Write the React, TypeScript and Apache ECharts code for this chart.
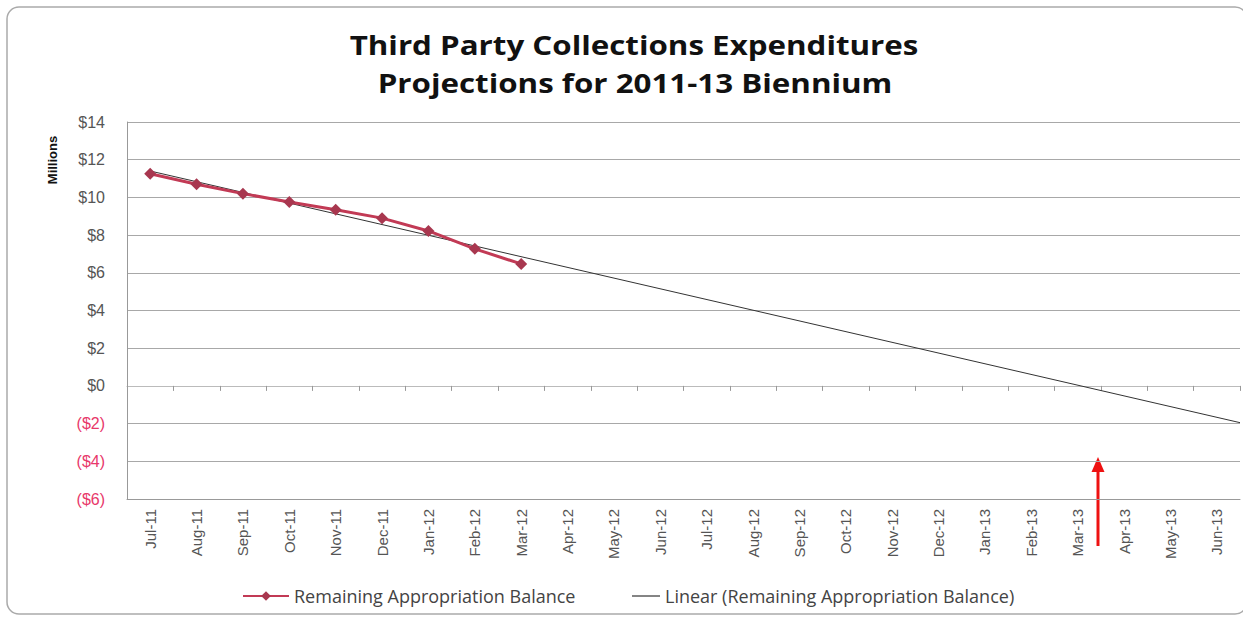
import React, { useEffect, useRef } from "react";
import * as echarts from "echarts";

const months = [
  "Jul-11", "Aug-11", "Sep-11", "Oct-11", "Nov-11", "Dec-11",
  "Jan-12", "Feb-12", "Mar-12", "Apr-12", "May-12", "Jun-12",
  "Jul-12", "Aug-12", "Sep-12", "Oct-12", "Nov-12", "Dec-12",
  "Jan-13", "Feb-13", "Mar-13", "Apr-13", "May-13", "Jun-13",
];
const balance = [11.25, 10.7, 10.2, 9.76, 9.34, 8.9, 8.22, 7.27, 6.47];
// trend line endpoints: [band position, value]
const trendPoints = [
  [0.5, 11.4],
  [24, -1.95],
];
const seriesName = "Remaining Appropriation Balance";
const trendName = "Linear (Remaining Appropriation Balance)";
const titleLines = ["Third Party Collections Expenditures", "Projections for 2011-13 Biennium"];

export default function App() {
  const ref = useRef<HTMLDivElement>(null);
  useEffect(() => {
    document.body.style.margin = "0";
    const chart = echarts.init(ref.current!, null, { renderer: "svg" });
    const legendText = { fontFamily: "Open Sans", fontSize: 18, color: "#444" };
    const titleStyle = {
      fontFamily: "Open Sans",
      fontWeight: "bold",
      fontSize: 27,
      fill: "#111",
      align: "center",
      verticalAlign: "middle",
    };
    chart.setOption({
      animation: false,
      backgroundColor: "#ffffff",
      legend: [
        {
          left: 237,
          top: 582,
          itemGap: 4,
          itemWidth: 46,
          itemHeight: 12,
          textStyle: legendText,
          data: [seriesName],
        },
        {
          left: 627,
          top: 582,
          itemGap: 4,
          itemWidth: 28,
          itemHeight: 1.2,
          textStyle: legendText,
          data: [{ name: trendName, icon: "rect" }],
        },
      ],
      grid: { left: 127, right: 3, top: 122, bottom: 121, containLabel: false },
      xAxis: [
        {
          type: "category",
          data: months,
          boundaryGap: true,
          position: "bottom",
          axisLine: { show: true, onZero: false, lineStyle: { color: "#999" } },
          axisTick: { show: false },
          axisLabel: {
            rotate: 90,
            margin: 10,
            fontFamily: "Liberation Sans Narrow, Liberation Sans",
            fontSize: 15,
            color: "#555",
          },
          splitLine: { show: false },
        },
        {
          type: "value",
          min: 0,
          max: 24,
          interval: 1,
          position: "bottom",
          axisLine: { show: true, onZero: true, lineStyle: { color: "#bbb" } },
          axisTick: { show: true, length: 5, inside: false, lineStyle: { color: "#999" } },
          axisLabel: { show: false },
          splitLine: { show: false },
        },
      ],
      yAxis: {
        type: "value",
        min: -6,
        max: 14,
        interval: 2,
        axisLine: { show: true, lineStyle: { color: "#999" } },
        axisTick: { show: false },
        splitLine: { show: true, lineStyle: { color: "#a8a8a8", width: 1 } },
        axisLabel: {
          margin: 22,
          fontFamily: "Liberation Sans",
          fontSize: 16,
          formatter: (v: number) => (v < 0 ? `($${-v})` : `$${v}`),
          color: (v: any) => (Number(v) < 0 ? "#e8386a" : "#555"),
        },
      },
      series: [
        {
          name: trendName,
          type: "line",
          xAxisIndex: 1,
          data: trendPoints,
          symbol: "none",
          lineStyle: { color: "#333", width: 1 },
          itemStyle: { color: "#333" },
          z: 3,
        },
        {
          name: seriesName,
          type: "line",
          xAxisIndex: 0,
          data: balance,
          symbol: "diamond",
          symbolSize: 12,
          lineStyle: { color: "#c23a55", width: 3 },
          itemStyle: { color: "#a8374f" },
          z: 4,
        },
      ],
      graphic: [
        {
          type: "rect",
          shape: { x: 7, y: 7, width: 1240, height: 607, r: 12 },
          style: { fill: "none", stroke: "#aaa", lineWidth: 1.5 },
          silent: true,
        },
        {
          type: "text",
          x: 634,
          y: 45,
          scaleX: 1.16,
          style: { ...titleStyle, text: titleLines[0] },
        },
        {
          type: "text",
          x: 635,
          y: 83,
          scaleX: 1.16,
          style: { ...titleStyle, text: titleLines[1] },
        },
        {
          type: "text",
          x: 52,
          y: 160,
          rotation: Math.PI / 2,
          style: {
            text: "Millions",
            fontFamily: "Liberation Sans",
            fontWeight: "bold",
            fontSize: 13,
            fill: "#111",
            align: "center",
            verticalAlign: "middle",
          },
        },
        {
          type: "line",
          shape: { x1: 1098, y1: 546, x2: 1098, y2: 470 },
          style: { stroke: "#ee1111", lineWidth: 3 },
        },
        {
          type: "polygon",
          shape: { points: [[1098, 457], [1091.5, 472], [1104.5, 472]] },
          style: { fill: "#ee1111" },
        },
      ],
    });
    return () => chart.dispose();
  }, []);
  return <div ref={ref} style={{ width: 1243, height: 620 }} />;
}
